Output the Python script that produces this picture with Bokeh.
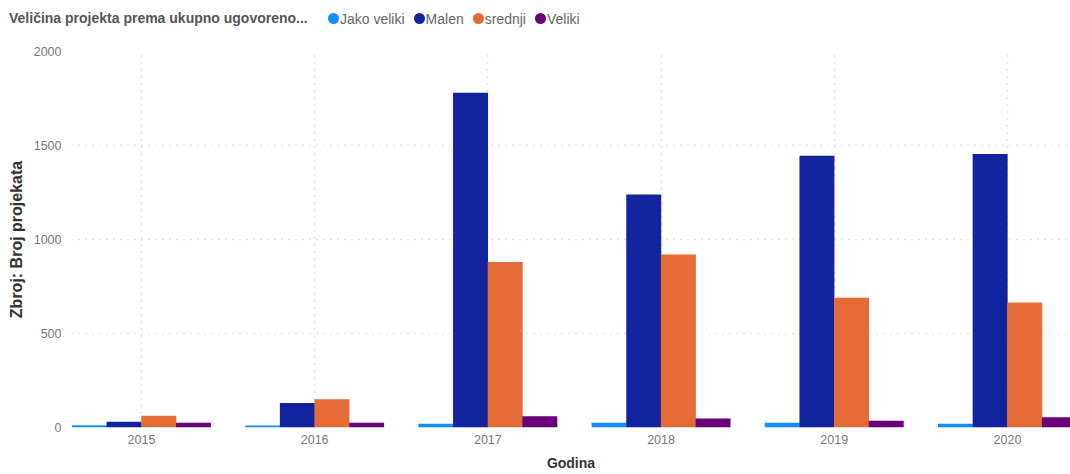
from bokeh.plotting import figure
from bokeh.models import ColumnDataSource, Range1d, FixedTicker, Div
from bokeh.layouts import column
from bokeh.transform import dodge
from bokeh.embed import file_html
from bokeh.resources import INLINE

years = [2015, 2016, 2017, 2018, 2019, 2020]
jako_veliki = [12, 10, 20, 25, 25, 20]
malen = [30, 130, 1780, 1240, 1445, 1455]
srednji = [62, 150, 880, 920, 690, 665]
veliki = [25, 25, 60, 48, 36, 55]
series = ["Jako veliki", "Malen", "srednji", "Veliki"]
colors = ["#118DFF", "#12239E", "#E66C37", "#6B007B"]
y_ticks = [0, 500, 1000, 1500, 2000]
legend_title = "Veličina projekta prema ukupno ugovoreno..."

src = ColumnDataSource(dict(year=years, jv=jako_veliki, ma=malen, sr=srednji, ve=veliki))

FONT = "Liberation Sans"

# ---------- legend header (HTML built from the series lists) ----------
item_html = ""
for name, col in zip(series, colors):
    item_html += (
        "<span style='display:inline-flex;align-items:center;margin-right:9px;'>"
        f"<span style='display:inline-block;width:11px;height:11px;border-radius:50%;background:{col};margin-right:1px;'></span>"
        f"<span>{name}</span></span>"
    )
header_html = (
    f"<div style='position:relative;width:1070px;height:43px;font-family:\"{FONT}\";'>"
    "<div style='position:absolute;left:9px;top:8px;height:21px;line-height:21px;"
    f"font-size:14px;font-weight:bold;color:#555555;white-space:nowrap;'>{legend_title}</div>"
    "<div style='position:absolute;left:328px;top:8px;height:21px;display:flex;align-items:center;"
    f"font-size:14px;color:#666666;white-space:nowrap;'>{item_html}</div>"
    "</div>"
)
header = Div(text=header_html, width=1070, height=43, margin=0)

# ---------- main chart ----------
p = figure(frame_width=999, frame_height=376, output_backend="svg", toolbar_location=None,
           x_range=Range1d(2014.596, 2020.364), y_range=Range1d(0, 2000),
           min_border_left=71, min_border_right=0, min_border_top=8, min_border_bottom=45)
p.outline_line_color = None
p.background_fill_color = "white"

cols = ["jv", "ma", "sr", "ve"]
offsets = [-0.3, -0.1, 0.1, 0.3]
for c, off, col in zip(cols, offsets, colors):
    p.vbar(x=dodge("year", off, range=p.x_range), top=c, width=0.202, source=src,
           fill_color=col, line_color=None)

p.xaxis.ticker = FixedTicker(ticks=years)
p.yaxis.ticker = FixedTicker(ticks=y_ticks)
for ax in (p.xaxis[0], p.yaxis[0]):
    ax.axis_line_color = None
    ax.major_tick_line_color = None
    ax.minor_tick_line_color = None
    ax.major_tick_out = 0
    ax.major_tick_in = 0
    ax.minor_tick_out = 0
    ax.major_label_text_font = FONT
    ax.major_label_text_font_size = "12.5px"
    ax.major_label_text_color = "#777777"
    ax.axis_label_text_font = FONT
    ax.axis_label_text_font_style = "bold"
    ax.axis_label_text_color = "#333333"
p.xaxis.axis_label = "Godina"
p.yaxis.axis_label = "Zbroj: Broj projekata"
p.xaxis.axis_label_text_font_size = "14px"
p.yaxis.axis_label_text_font_size = "16px"
p.xaxis.major_label_standoff = 7
p.xaxis.axis_label_standoff = 8
p.yaxis.major_label_standoff = 10
p.yaxis.axis_label_standoff = 6

p.xgrid.ticker = FixedTicker(ticks=years)
for g in (p.xgrid[0], p.ygrid[0]):
    g.grid_line_color = "#c8c8c8"
    g.grid_line_dash = "1 6"
    g.grid_line_width = 1.5

layout = column(header, p, spacing=0)
open("out.html", "w").write(file_html(layout, INLINE))
